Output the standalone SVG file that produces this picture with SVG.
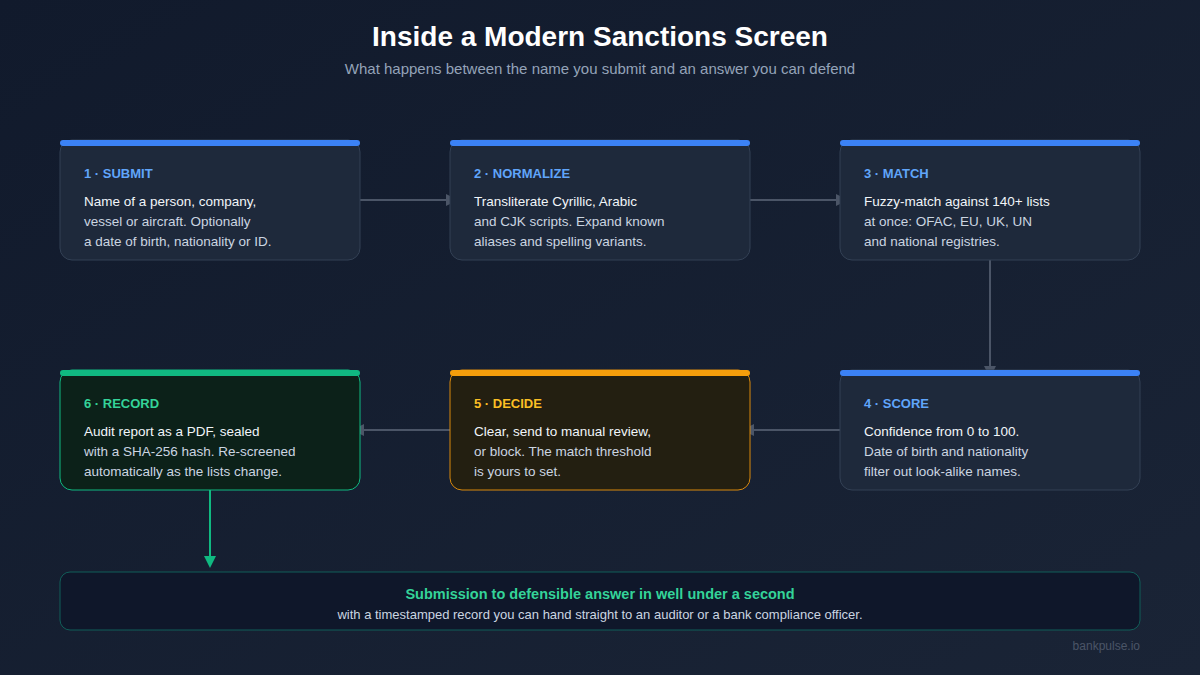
<svg xmlns="http://www.w3.org/2000/svg" width="1200" height="675" viewBox="0 0 1200 675">
<defs>
<linearGradient id="bg" x1="0" y1="0" x2="1" y2="1"><stop offset="0" stop-color="#111a2c"/><stop offset="1" stop-color="#1a2436"/></linearGradient>
<marker id="ag" markerWidth="12" markerHeight="12" refX="10" refY="6" orient="auto" markerUnits="userSpaceOnUse"><path d="M0,0 L12,6 L0,12 Z" fill="#4b5567"/></marker>
<marker id="agr" markerWidth="12" markerHeight="12" refX="10" refY="6" orient="auto" markerUnits="userSpaceOnUse"><path d="M0,0 L12,6 L0,12 Z" fill="#10b981"/></marker>
<style>
text{font-family:"Liberation Sans",Arial,sans-serif}
.card{fill:#1e293b;stroke:#334155;stroke-width:1}
.lbl{font-size:13px;font-weight:bold;fill:#60a5fa}
.b1{font-size:13.5px;fill:#f1f5f9}
.b2{font-size:13.5px;fill:#cbd5e1}
.con{stroke:#4b5567;stroke-width:2;fill:none;marker-end:url(#ag)}
</style>
</defs>
<rect width="1200" height="675" fill="url(#bg)"/>
<text x="600" y="46" text-anchor="middle" font-size="28" font-weight="bold" fill="#ffffff">Inside a Modern Sanctions Screen</text>
<text x="600" y="74" text-anchor="middle" font-size="15" fill="#94a3b8">What happens between the name you submit and an answer you can defend</text>

<g id="connectors">
<path class="con" d="M360,200 H456"/>
<path class="con" d="M750,200 H846"/>
<path class="con" d="M990,260 V376"/>
<path class="con" d="M840,430 H744"/>
<path class="con" d="M450,430 H354"/>
<path d="M210,490 V566" stroke="#10b981" stroke-width="2" fill="none" marker-end="url(#agr)"/>
</g>

<g id="n1"><rect class="card" x="60" y="140" width="300" height="120" rx="12"/><rect x="60" y="140" width="300" height="6" rx="3" fill="#3b82f6"/>
<text class="lbl" x="84" y="178">1 · SUBMIT</text>
<text class="b1" x="84" y="206">Name of a person, company,</text><text class="b2" x="84" y="226">vessel or aircraft. Optionally</text><text class="b2" x="84" y="246">a date of birth, nationality or ID.</text></g>

<g id="n2"><rect class="card" x="450" y="140" width="300" height="120" rx="12"/><rect x="450" y="140" width="300" height="6" rx="3" fill="#3b82f6"/>
<text class="lbl" x="474" y="178">2 · NORMALIZE</text>
<text class="b1" x="474" y="206">Transliterate Cyrillic, Arabic</text><text class="b2" x="474" y="226">and CJK scripts. Expand known</text><text class="b2" x="474" y="246">aliases and spelling variants.</text></g>

<g id="n3"><rect class="card" x="840" y="140" width="300" height="120" rx="12"/><rect x="840" y="140" width="300" height="6" rx="3" fill="#3b82f6"/>
<text class="lbl" x="864" y="178">3 · MATCH</text>
<text class="b1" x="864" y="206">Fuzzy-match against 140+ lists</text><text class="b2" x="864" y="226">at once: OFAC, EU, UK, UN</text><text class="b2" x="864" y="246">and national registries.</text></g>

<g id="n4"><rect class="card" x="840" y="370" width="300" height="120" rx="12"/><rect x="840" y="370" width="300" height="6" rx="3" fill="#3b82f6"/>
<text class="lbl" x="864" y="408">4 · SCORE</text>
<text class="b1" x="864" y="436">Confidence from 0 to 100.</text><text class="b2" x="864" y="456">Date of birth and nationality</text><text class="b2" x="864" y="476">filter out look-alike names.</text></g>

<g id="n5"><rect x="450" y="370" width="300" height="120" rx="12" fill="#231f11" stroke="#d9890d" stroke-width="1"/><rect x="450" y="370" width="300" height="6" rx="3" fill="#f59e0b"/>
<text class="lbl" x="474" y="408" fill="#fbbf24" style="fill:#fbbf24">5 · DECIDE</text>
<text class="b1" x="474" y="436">Clear, send to manual review,</text><text class="b2" x="474" y="456">or block. The match threshold</text><text class="b2" x="474" y="476">is yours to set.</text></g>

<g id="n6"><rect x="60" y="370" width="300" height="120" rx="12" fill="#0c2119" stroke="#10b981" stroke-width="1"/><rect x="60" y="370" width="300" height="6" rx="3" fill="#10b981"/>
<text class="lbl" x="84" y="408" style="fill:#34d399">6 · RECORD</text>
<text class="b1" x="84" y="436">Audit report as a PDF, sealed</text><text class="b2" x="84" y="456">with a SHA-256 hash. Re-screened</text><text class="b2" x="84" y="476">automatically as the lists change.</text></g>

<g id="summary"><rect x="60" y="572" width="1080" height="58" rx="10" fill="#0f172a" stroke="#115e59" stroke-width="1"/>
<text x="600" y="599" text-anchor="middle" font-size="14.5" font-weight="bold" fill="#34d399">Submission to defensible answer in well under a second</text>
<text x="600" y="619" text-anchor="middle" font-size="13" fill="#cbd5e1">with a timestamped record you can hand straight to an auditor or a bank compliance officer.</text></g>
<text x="1140" y="650" text-anchor="end" font-size="12" fill="#4b5567">bankpulse.io</text>
</svg>
